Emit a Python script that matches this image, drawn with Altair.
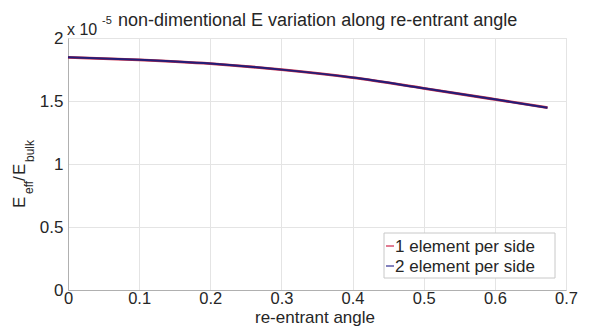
import altair as alt
import pandas as pd

# data (y in units of 1e-5)
angle = [0.0, 0.1, 0.2, 0.3, 0.4, 0.5, 0.6, 0.674]
e1 = [1.847, 1.827, 1.797, 1.749, 1.686, 1.601, 1.513, 1.447]
e2 = [1.847, 1.827, 1.797, 1.749, 1.686, 1.601, 1.513, 1.447]
series = ["1 element per side", "2 element per side"]
x_ticks = [0, 0.1, 0.2, 0.3, 0.4, 0.5, 0.6, 0.7]
y_ticks = [0, 0.5, 1, 1.5, 2]

FONT = "Liberation Sans"
TXT = "#262626"
RED = "#c8304a"
BLUE = "#231d78"

df = pd.DataFrame({
    "angle": angle * 2,
    "E": e1 + e2,
    "series": [series[0]] * len(angle) + [series[1]] * len(angle),
})

W, H = 498, 252

x = alt.X("angle:Q", scale=alt.Scale(domain=[0, 0.7], nice=False),
          axis=alt.Axis(values=x_ticks, title=None, format=".1~f",
                        labelFont=FONT, labelFontSize=16.5, labelColor=TXT,
                        ticks=False, labelPadding=0, domainColor="#b0b0b0",
                        gridColor="#e4e4e4", labelFlush=False))
y = alt.Y("E:Q", scale=alt.Scale(domain=[0, 2], nice=False),
          axis=alt.Axis(values=y_ticks, title=None, format="~g",
                        labelFont=FONT, labelFontSize=17, labelColor=TXT,
                        ticks=False, labelPadding=5, domainColor="#b0b0b0",
                        gridColor="#e4e4e4", labelFlush=False))

base = alt.Chart(df)
line1 = base.transform_filter(alt.datum.series == series[0]).mark_line(
    color=RED, strokeWidth=2.8, interpolate="monotone").encode(x=x, y=y)
line2 = base.transform_filter(alt.datum.series == series[1]).mark_line(
    color=BLUE, strokeWidth=2.0, interpolate="monotone").encode(x=x, y=y)

one = pd.DataFrame({"a": [0]})

def txt(s, px, py, size=17, angle=0, align="left", baseline="alphabetic", color=TXT):
    kw = dict(text=s, font=FONT, fontSize=size, align=align, baseline=baseline, color=color)
    if angle:
        kw["angle"] = angle
    return alt.Chart(one).mark_text(**kw).encode(x=alt.value(px), y=alt.value(py))

def rule(x1, x2, y1, color, w=1.5):
    return alt.Chart(one).mark_rule(color=color, strokeWidth=w).encode(
        x=alt.value(x1), x2=alt.value(x2), y=alt.value(y1))

title = txt("non-dimentional E variation along re-entrant angle", 50, -12, size=18)
exp1 = txt("x 10", -1, -3, size=16)
exp2 = txt("-5", 34, -14, size=11)
xtitle = txt("re-entrant angle", 247, 285, size=17, align="center")

# y-axis label E_eff / E_bulk
yl = [
    txt("E", -43, 170, size=17, angle=270),
    txt("eff", -35, 156, size=12, angle=270),
    txt("/", -43, 143, size=17, angle=270),
    txt("E", -43, 137, size=17, angle=270),
    txt("bulk", -34, 124, size=12, angle=270),
]

# legend
lx0, lx1, ly0, ly1 = 316, 487, 195, 240
legbox = alt.Chart(one).mark_rect(fill="white", stroke="#c8c8c8", strokeWidth=1).encode(
    x=alt.value(lx0), x2=alt.value(lx1), y=alt.value(ly0), y2=alt.value(ly1))
leg = [
    legbox,
    rule(318, 326, 208, "#d8506e"),
    rule(318, 326, 228, "#5a58a8"),
    txt(series[0], 327, 214, size=17),
    txt(series[1], 327, 234, size=17),
]

chart = alt.layer(line1, line2, title, exp1, exp2, xtitle, *yl, *leg).properties(
    width=W, height=H,
    padding={"left": 68, "top": 38, "right": 23, "bottom": 37},
    autosize=alt.AutoSizeParams(type="none"),
    background="white",
).configure_view(stroke="#dcdcdc")

chart.save("out.html", embed_options={"renderer": "svg", "actions": False})
